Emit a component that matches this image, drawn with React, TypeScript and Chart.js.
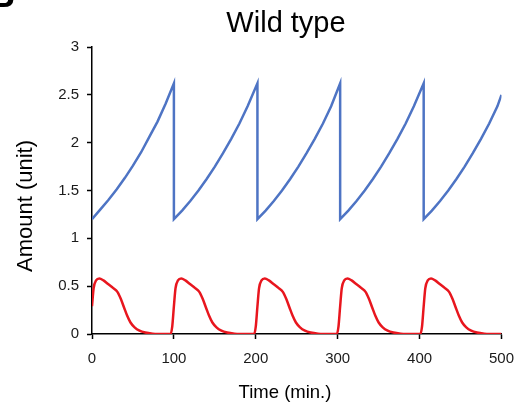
import React, { useEffect, useRef } from "react";
import { Chart, registerables } from "chart.js";

Chart.register(...registerables);

const chartTitle = "Wild type";
const xTitle = "Time (min.)";
const yTitle = "Amount (unit)";
const panelLetter = "B";

const xTicks = [0, 100, 200, 300, 400, 500];
const yTicks = [0, 0.5, 1, 1.5, 2, 2.5, 3];

const blueTime = [
  0, 10, 20, 30, 40, 50, 60, 70, 80, 90, 100,
  100, 110, 120, 130, 140, 150, 160, 170, 180, 190, 202,
  202, 212, 222, 232, 242, 252, 262, 272, 282, 292, 303,
  303, 313, 323, 333, 343, 353, 363, 373, 383, 393, 405,
  405, 415, 425, 435, 445, 455, 465, 475, 485, 495, 500,
];
const blueValue = [
  1.2, 1.3, 1.4, 1.51, 1.63, 1.76, 1.9, 2.06, 2.22, 2.41, 2.62,
  1.2, 1.29, 1.39, 1.5, 1.62, 1.75, 1.89, 2.04, 2.2, 2.38, 2.62,
  1.2, 1.29, 1.39, 1.5, 1.62, 1.75, 1.89, 2.04, 2.2, 2.38, 2.62,
  1.2, 1.29, 1.39, 1.5, 1.62, 1.75, 1.89, 2.04, 2.2, 2.38, 2.62,
  1.2, 1.29, 1.39, 1.5, 1.62, 1.75, 1.89, 2.04, 2.2, 2.38, 2.5,
];

const redTime = [
  0, 2, 5, 9, 14, 20, 26, 31, 35, 39, 43, 47, 52, 58, 65, 74, 80,
  96, 98, 100, 102, 105, 109, 114, 120, 126, 131, 135, 139, 143, 147, 152, 158, 165, 174, 180,
  198, 200, 202, 204, 207, 211, 216, 222, 228, 233, 237, 241, 245, 249, 254, 260, 267, 276, 282,
  299, 301, 303, 305, 308, 312, 317, 323, 329, 334, 338, 342, 346, 350, 355, 361, 368, 377, 383,
  401, 403, 405, 407, 410, 414, 419, 425, 431, 436, 440, 444, 448, 452, 457, 463, 470, 479, 485,
  500,
];
const redValue = [
  0.29, 0.48, 0.56, 0.58, 0.56, 0.52, 0.48, 0.44, 0.37, 0.28, 0.19, 0.12, 0.07, 0.035, 0.015, 0.003, 0,
  0, 0.08, 0.29, 0.48, 0.56, 0.58, 0.56, 0.52, 0.48, 0.44, 0.37, 0.28, 0.19, 0.12, 0.07, 0.035, 0.015, 0.003, 0,
  0, 0.08, 0.29, 0.48, 0.56, 0.58, 0.56, 0.52, 0.48, 0.44, 0.37, 0.28, 0.19, 0.12, 0.07, 0.035, 0.015, 0.003, 0,
  0, 0.08, 0.29, 0.48, 0.56, 0.58, 0.56, 0.52, 0.48, 0.44, 0.37, 0.28, 0.19, 0.12, 0.07, 0.035, 0.015, 0.003, 0,
  0, 0.08, 0.29, 0.48, 0.56, 0.58, 0.56, 0.52, 0.48, 0.44, 0.37, 0.28, 0.19, 0.12, 0.07, 0.035, 0.015, 0.003, 0,
  0,
];

const FONT = '"Liberation Sans", Arial, sans-serif';

const textPlugin = {
  id: "extraTexts",
  afterDraw(chart: any) {
    const ctx = chart.ctx as CanvasRenderingContext2D;
    ctx.save();
    ctx.fillStyle = "#000";
    ctx.textBaseline = "alphabetic";
    ctx.textAlign = "center";
    ctx.font = `29px ${FONT}`;
    ctx.fillText(chartTitle, 286, 32);
    ctx.font = `18.5px ${FONT}`;
    ctx.fillText(xTitle, 285, 398);
    ctx.save();
    ctx.translate(32, 206);
    ctx.rotate(-Math.PI / 2);
    ctx.font = `22px ${FONT}`;
    ctx.fillText(yTitle, 0, 0);
    ctx.restore();
    ctx.textAlign = "left";
    ctx.font = `bold 36px ${FONT}`;
    ctx.fillText(panelLetter, -11, 7);
    ctx.restore();
  },
};

export default function App() {
  const ref = useRef<HTMLCanvasElement | null>(null);

  useEffect(() => {
    if (!ref.current) return;
    const chart = new Chart(ref.current, {
      type: "line",
      data: {
        datasets: [
          {
            label: "blue",
            data: blueTime.map((t, i) => ({ x: t, y: blueValue[i] })),
            borderColor: "#4E74C4",
            borderWidth: 2.5,
            pointRadius: 0,
            tension: 0,
            fill: false,
          },
          {
            label: "red",
            data: redTime.map((t, i) => ({ x: t, y: redValue[i] })),
            borderColor: "#E8161E",
            borderWidth: 2.5,
            pointRadius: 0,
            cubicInterpolationMode: "monotone",
            fill: false,
          },
        ],
      },
      options: {
        responsive: false,
        animation: false,
        devicePixelRatio: 1,
        layout: { padding: { top: 47, right: 13, left: 0, bottom: 0 } },
        plugins: {
          legend: { display: false },
          tooltip: { enabled: false },
          title: { display: false },
        },
        scales: {
          x: {
            type: "linear",
            min: 0,
            max: 500,
            afterBuildTicks: (s: any) => {
              s.ticks = xTicks.map((v) => ({ value: v }));
            },
            afterFit: (s: any) => {
              s.height = 72;
            },
            ticks: {
              color: "#1a1a1a",
              font: { family: FONT, size: 15 },
              padding: 11,
              maxRotation: 0,
              callback: (v: any) => String(v),
            },
            grid: {
              drawOnChartArea: false,
              drawTicks: true,
              tickLength: 5,
              tickColor: "#000",
              tickWidth: 1.5,
            },
            border: { color: "#000", width: 1.5 },
          },
          y: {
            type: "linear",
            min: 0,
            max: 3,
            afterBuildTicks: (s: any) => {
              s.ticks = yTicks.map((v) => ({ value: v }));
            },
            afterFit: (s: any) => {
              s.width = 92;
            },
            ticks: {
              color: "#1a1a1a",
              font: { family: FONT, size: 15 },
              padding: 8,
              callback: (v: any) => String(v),
            },
            grid: {
              drawOnChartArea: false,
              drawTicks: true,
              tickLength: 5,
              tickColor: "#000",
              tickWidth: 1.5,
            },
            border: { color: "#000", width: 1.5 },
          },
        },
      },
      plugins: [textPlugin],
    });
    return () => chart.destroy();
  }, []);

  return (
    <div style={{ position: "fixed", left: 0, top: 0, width: 525, height: 406, background: "#fff" }}>
      <canvas ref={ref} width={525} height={406} />
    </div>
  );
}
